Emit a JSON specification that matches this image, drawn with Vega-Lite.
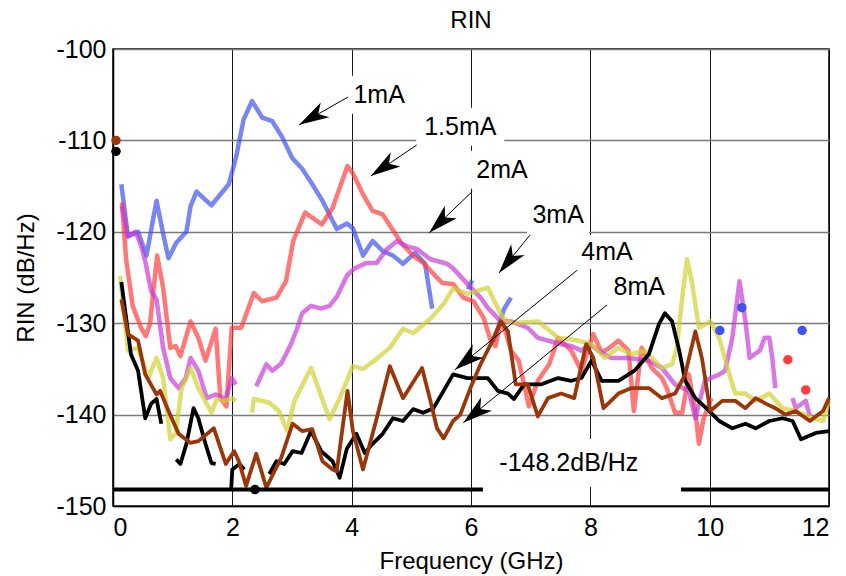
{
  "$schema": "https://vega.github.io/schema/vega-lite/v6.json",
  "width": 716,
  "height": 457,
  "autosize": "none",
  "padding": {"left": 113, "top": 49, "right": 17, "bottom": 70},
  "background": "white",
  "title": {"text": "RIN", "fontSize": 24, "font": "Liberation Sans", "fontWeight": "normal", "color": "black", "offset": 4},
  "datasets": {
    "lines": [
      {"s":"1mA","g":1,"x":0.14,"y":-114.8},{"s":"1mA","g":1,"x":0.25,"y":-120.5},{"s":"1mA","g":1,"x":0.42,"y":-120},{"s":"1mA","g":1,"x":0.56,"y":-122.6},{"s":"1mA","g":1,"x":0.73,"y":-116.6},{"s":"1mA","g":1,"x":0.84,"y":-120.2},{"s":"1mA","g":1,"x":0.93,"y":-122.9},{"s":"1mA","g":1,"x":1.06,"y":-121.2},{"s":"1mA","g":1,"x":1.23,"y":-120},{"s":"1mA","g":1,"x":1.3,"y":-117.2},{"s":"1mA","g":1,"x":1.4,"y":-115.6},{"s":"1mA","g":1,"x":1.65,"y":-117.1},{"s":"1mA","g":1,"x":1.94,"y":-114.8},{"s":"1mA","g":1,"x":2.06,"y":-111.9},{"s":"1mA","g":1,"x":2.19,"y":-107.7},{"s":"1mA","g":1,"x":2.33,"y":-105.7},{"s":"1mA","g":1,"x":2.5,"y":-107.5},{"s":"1mA","g":1,"x":2.67,"y":-107.9},{"s":"1mA","g":1,"x":2.84,"y":-109.7},{"s":"1mA","g":1,"x":3.0,"y":-111.9},{"s":"1mA","g":1,"x":3.17,"y":-113.1},{"s":"1mA","g":1,"x":3.34,"y":-114.8},{"s":"1mA","g":1,"x":3.51,"y":-116.6},{"s":"1mA","g":1,"x":3.75,"y":-119.7},{"s":"1mA","g":1,"x":3.92,"y":-119.1},{"s":"1mA","g":1,"x":4.02,"y":-119.6},{"s":"1mA","g":1,"x":4.19,"y":-122.6},{"s":"1mA","g":1,"x":4.35,"y":-121},{"s":"1mA","g":1,"x":4.52,"y":-122.1},{"s":"1mA","g":1,"x":4.69,"y":-122.6},{"s":"1mA","g":1,"x":4.86,"y":-123.5},{"s":"1mA","g":1,"x":5.06,"y":-122.3},{"s":"1mA","g":1,"x":5.23,"y":-123.5},{"s":"1mA","g":1,"x":5.35,"y":-128.4},
      {"s":"1mA","g":2,"x":5.95,"y":-126.3},{"s":"1mA","g":2,"x":6.02,"y":-125.3},
      {"s":"1mA","g":3,"x":6.38,"y":-132},{"s":"1mA","g":3,"x":6.48,"y":-130},{"s":"1mA","g":3,"x":6.55,"y":-128.5},{"s":"1mA","g":3,"x":6.67,"y":-127.2},
      {"s":"1.5mA","g":1,"x":0.15,"y":-116.8},{"s":"1.5mA","g":1,"x":0.22,"y":-123},{"s":"1.5mA","g":1,"x":0.33,"y":-128.1},{"s":"1.5mA","g":1,"x":0.47,"y":-130.5},{"s":"1.5mA","g":1,"x":0.55,"y":-131.4},{"s":"1.5mA","g":1,"x":0.62,"y":-130.1},{"s":"1.5mA","g":1,"x":0.74,"y":-122.6},{"s":"1.5mA","g":1,"x":0.84,"y":-126.1},{"s":"1.5mA","g":1,"x":0.96,"y":-132.7},{"s":"1.5mA","g":1,"x":1.05,"y":-132.5},{"s":"1.5mA","g":1,"x":1.13,"y":-133.6},{"s":"1.5mA","g":1,"x":1.3,"y":-129.8},{"s":"1.5mA","g":1,"x":1.43,"y":-131.6},{"s":"1.5mA","g":1,"x":1.55,"y":-134.1},{"s":"1.5mA","g":1,"x":1.72,"y":-130.6},{"s":"1.5mA","g":1,"x":1.8,"y":-138.2},{"s":"1.5mA","g":1,"x":1.9,"y":-139.1},{"s":"1.5mA","g":1,"x":1.99,"y":-130.5},{"s":"1.5mA","g":1,"x":2.15,"y":-130.5},{"s":"1.5mA","g":1,"x":2.36,"y":-126.7},{"s":"1.5mA","g":1,"x":2.5,"y":-127.6},{"s":"1.5mA","g":1,"x":2.74,"y":-127.2},{"s":"1.5mA","g":1,"x":2.9,"y":-125.4},{"s":"1.5mA","g":1,"x":3.02,"y":-121},{"s":"1.5mA","g":1,"x":3.22,"y":-117.9},{"s":"1.5mA","g":1,"x":3.5,"y":-119.2},{"s":"1.5mA","g":1,"x":3.68,"y":-117.4},{"s":"1.5mA","g":1,"x":3.93,"y":-112.8},{"s":"1.5mA","g":1,"x":4.02,"y":-113.6},{"s":"1.5mA","g":1,"x":4.19,"y":-115.9},{"s":"1.5mA","g":1,"x":4.35,"y":-117.7},{"s":"1.5mA","g":1,"x":4.52,"y":-118.1},{"s":"1.5mA","g":1,"x":4.69,"y":-119.8},{"s":"1.5mA","g":1,"x":4.84,"y":-121.3},{"s":"1.5mA","g":1,"x":5.03,"y":-122.6},{"s":"1.5mA","g":1,"x":5.2,"y":-123.4},{"s":"1.5mA","g":1,"x":5.37,"y":-124.6},{"s":"1.5mA","g":1,"x":5.52,"y":-125.6},{"s":"1.5mA","g":1,"x":5.7,"y":-125.7},{"s":"1.5mA","g":1,"x":5.87,"y":-127.2},{"s":"1.5mA","g":1,"x":6.04,"y":-127.6},{"s":"1.5mA","g":1,"x":6.21,"y":-129.4},{"s":"1.5mA","g":1,"x":6.33,"y":-131.9},{"s":"1.5mA","g":1,"x":6.41,"y":-132.5},{"s":"1.5mA","g":1,"x":6.5,"y":-129.8},{"s":"1.5mA","g":1,"x":6.58,"y":-130.9},{"s":"1.5mA","g":1,"x":6.67,"y":-133},{"s":"1.5mA","g":1,"x":6.8,"y":-134.1},{"s":"1.5mA","g":1,"x":6.97,"y":-139.1},{"s":"1.5mA","g":1,"x":7.12,"y":-136.3},{"s":"1.5mA","g":1,"x":7.31,"y":-134.5},{"s":"1.5mA","g":1,"x":7.46,"y":-131.6},{"s":"1.5mA","g":1,"x":7.68,"y":-133},{"s":"1.5mA","g":1,"x":7.85,"y":-135.2},{"s":"1.5mA","g":1,"x":8.05,"y":-131.2},{"s":"1.5mA","g":1,"x":8.19,"y":-133.2},{"s":"1.5mA","g":1,"x":8.32,"y":-132.7},{"s":"1.5mA","g":1,"x":8.47,"y":-131.9},{"s":"1.5mA","g":1,"x":8.64,"y":-133},{"s":"1.5mA","g":1,"x":8.73,"y":-139.6},{"s":"1.5mA","g":1,"x":8.86,"y":-132.7},{"s":"1.5mA","g":1,"x":9.03,"y":-134.9},{"s":"1.5mA","g":1,"x":9.2,"y":-136},{"s":"1.5mA","g":1,"x":9.28,"y":-137.1},{"s":"1.5mA","g":1,"x":9.42,"y":-139.8},{"s":"1.5mA","g":1,"x":9.54,"y":-139.8},{"s":"1.5mA","g":1,"x":9.65,"y":-135.6},{"s":"1.5mA","g":1,"x":9.76,"y":-139.6},{"s":"1.5mA","g":1,"x":9.82,"y":-143.2},{"s":"1.5mA","g":1,"x":9.9,"y":-140.4},{"s":"1.5mA","g":1,"x":10.03,"y":-138.2},
      {"s":"2mA","g":1,"x":0.15,"y":-117.2},{"s":"2mA","g":1,"x":0.25,"y":-120.5},{"s":"2mA","g":1,"x":0.38,"y":-120},{"s":"2mA","g":1,"x":0.47,"y":-121.5},{"s":"2mA","g":1,"x":0.54,"y":-123.2},{"s":"2mA","g":1,"x":0.64,"y":-126.5},{"s":"2mA","g":1,"x":0.73,"y":-127.4},{"s":"2mA","g":1,"x":0.84,"y":-132.7},{"s":"2mA","g":1,"x":0.96,"y":-136},{"s":"2mA","g":1,"x":1.1,"y":-137.1},{"s":"2mA","g":1,"x":1.22,"y":-136},{"s":"2mA","g":1,"x":1.3,"y":-133.8},{"s":"2mA","g":1,"x":1.43,"y":-135.2},{"s":"2mA","g":1,"x":1.57,"y":-138.2},{"s":"2mA","g":1,"x":1.72,"y":-137.8},{"s":"2mA","g":1,"x":1.89,"y":-138.3},{"s":"2mA","g":1,"x":1.99,"y":-136},{"s":"2mA","g":1,"x":2.06,"y":-136.7},
      {"s":"2mA","g":2,"x":2.4,"y":-136.9},{"s":"2mA","g":2,"x":2.57,"y":-134.5},{"s":"2mA","g":2,"x":2.67,"y":-135.2},{"s":"2mA","g":2,"x":2.82,"y":-134.4},{"s":"2mA","g":2,"x":2.99,"y":-132.2},{"s":"2mA","g":2,"x":3.09,"y":-130.5},{"s":"2mA","g":2,"x":3.17,"y":-128.9},{"s":"2mA","g":2,"x":3.32,"y":-128.1},{"s":"2mA","g":2,"x":3.49,"y":-128.4},{"s":"2mA","g":2,"x":3.63,"y":-128.1},{"s":"2mA","g":2,"x":3.76,"y":-127},{"s":"2mA","g":2,"x":3.92,"y":-124.8},{"s":"2mA","g":2,"x":4.05,"y":-124},{"s":"2mA","g":2,"x":4.25,"y":-123.4},{"s":"2mA","g":2,"x":4.42,"y":-123.4},{"s":"2mA","g":2,"x":4.59,"y":-121.9},{"s":"2mA","g":2,"x":4.76,"y":-121},{"s":"2mA","g":2,"x":4.93,"y":-121.6},{"s":"2mA","g":2,"x":5.1,"y":-121.9},{"s":"2mA","g":2,"x":5.32,"y":-123},{"s":"2mA","g":2,"x":5.6,"y":-123.5},{"s":"2mA","g":2,"x":5.7,"y":-124},{"s":"2mA","g":2,"x":5.94,"y":-125.7},{"s":"2mA","g":2,"x":6.16,"y":-127.2},{"s":"2mA","g":2,"x":6.28,"y":-128.3},{"s":"2mA","g":2,"x":6.5,"y":-129.8},{"s":"2mA","g":2,"x":6.67,"y":-129.8},{"s":"2mA","g":2,"x":6.95,"y":-130.5},{"s":"2mA","g":2,"x":7.12,"y":-131.6},{"s":"2mA","g":2,"x":7.29,"y":-131.9},{"s":"2mA","g":2,"x":7.51,"y":-132.3},{"s":"2mA","g":2,"x":7.68,"y":-132.5},{"s":"2mA","g":2,"x":7.85,"y":-133},{"s":"2mA","g":2,"x":7.98,"y":-132.3},{"s":"2mA","g":2,"x":8.14,"y":-133},{"s":"2mA","g":2,"x":8.35,"y":-133.8},{"s":"2mA","g":2,"x":8.64,"y":-133.8},{"s":"2mA","g":2,"x":8.98,"y":-134.1},{"s":"2mA","g":2,"x":9.2,"y":-134.9},{"s":"2mA","g":2,"x":9.42,"y":-136.7},{"s":"2mA","g":2,"x":9.65,"y":-137.4},{"s":"2mA","g":2,"x":9.76,"y":-140.4},{"s":"2mA","g":2,"x":9.92,"y":-136.3},{"s":"2mA","g":2,"x":10.16,"y":-135.6},{"s":"2mA","g":2,"x":10.26,"y":-135.2},{"s":"2mA","g":2,"x":10.38,"y":-131.6},{"s":"2mA","g":2,"x":10.5,"y":-125.4},{"s":"2mA","g":2,"x":10.6,"y":-129.8},{"s":"2mA","g":2,"x":10.67,"y":-133.8},{"s":"2mA","g":2,"x":10.84,"y":-133},{"s":"2mA","g":2,"x":10.92,"y":-131.6},{"s":"2mA","g":2,"x":11.0,"y":-131.6},{"s":"2mA","g":2,"x":11.05,"y":-133.8},{"s":"2mA","g":2,"x":11.1,"y":-137.1},
      {"s":"2mA","g":3,"x":11.39,"y":-138.2},{"s":"2mA","g":3,"x":11.44,"y":-139.3},{"s":"2mA","g":3,"x":11.61,"y":-138.5},{"s":"2mA","g":3,"x":11.68,"y":-140.2},
      {"s":"3mA","g":1,"x":0.12,"y":-124.8},{"s":"3mA","g":1,"x":0.25,"y":-133},{"s":"3mA","g":1,"x":0.42,"y":-132.7},{"s":"3mA","g":1,"x":0.59,"y":-136},{"s":"3mA","g":1,"x":0.73,"y":-133.8},{"s":"3mA","g":1,"x":0.84,"y":-136},{"s":"3mA","g":1,"x":0.96,"y":-142.7},{"s":"3mA","g":1,"x":1.05,"y":-142.1},{"s":"3mA","g":1,"x":1.15,"y":-137.1},{"s":"3mA","g":1,"x":1.3,"y":-134.9},{"s":"3mA","g":1,"x":1.43,"y":-137.1},{"s":"3mA","g":1,"x":1.65,"y":-139.8},{"s":"3mA","g":1,"x":1.74,"y":-138.3},{"s":"3mA","g":1,"x":1.86,"y":-138.5},{"s":"3mA","g":1,"x":1.99,"y":-138.2},{"s":"3mA","g":1,"x":2.06,"y":-138.5},
      {"s":"3mA","g":2,"x":2.33,"y":-139.8},{"s":"3mA","g":2,"x":2.36,"y":-138.3},{"s":"3mA","g":2,"x":2.62,"y":-138.7},{"s":"3mA","g":2,"x":2.78,"y":-139.6},{"s":"3mA","g":2,"x":2.92,"y":-141.8},{"s":"3mA","g":2,"x":3.04,"y":-138.5},{"s":"3mA","g":2,"x":3.32,"y":-134.9},{"s":"3mA","g":2,"x":3.63,"y":-140.5},{"s":"3mA","g":2,"x":3.8,"y":-138.2},{"s":"3mA","g":2,"x":4.02,"y":-134.7},{"s":"3mA","g":2,"x":4.19,"y":-135},{"s":"3mA","g":2,"x":4.42,"y":-133.9},{"s":"3mA","g":2,"x":4.64,"y":-132.7},{"s":"3mA","g":2,"x":4.86,"y":-130.6},{"s":"3mA","g":2,"x":5.03,"y":-131.1},{"s":"3mA","g":2,"x":5.32,"y":-129.5},{"s":"3mA","g":2,"x":5.54,"y":-127.9},{"s":"3mA","g":2,"x":5.7,"y":-126.2},{"s":"3mA","g":2,"x":5.94,"y":-126.8},{"s":"3mA","g":2,"x":6.28,"y":-126.1},{"s":"3mA","g":2,"x":6.53,"y":-129.4},{"s":"3mA","g":2,"x":6.67,"y":-130},{"s":"3mA","g":2,"x":7.12,"y":-129.8},{"s":"3mA","g":2,"x":7.46,"y":-131.6},{"s":"3mA","g":2,"x":7.8,"y":-131.9},{"s":"3mA","g":2,"x":8.02,"y":-132.3},{"s":"3mA","g":2,"x":8.24,"y":-133.8},{"s":"3mA","g":2,"x":8.47,"y":-132.7},{"s":"3mA","g":2,"x":8.69,"y":-133.4},{"s":"3mA","g":2,"x":8.91,"y":-133},{"s":"3mA","g":2,"x":9.2,"y":-134.9},{"s":"3mA","g":2,"x":9.37,"y":-134.5},{"s":"3mA","g":2,"x":9.45,"y":-132.7},{"s":"3mA","g":2,"x":9.54,"y":-127.2},{"s":"3mA","g":2,"x":9.62,"y":-123},{"s":"3mA","g":2,"x":9.7,"y":-125.4},{"s":"3mA","g":2,"x":9.82,"y":-130.5},{"s":"3mA","g":2,"x":10.01,"y":-129.8},{"s":"3mA","g":2,"x":10.16,"y":-131.6},{"s":"3mA","g":2,"x":10.33,"y":-135.6},{"s":"3mA","g":2,"x":10.43,"y":-137.7},{"s":"3mA","g":2,"x":10.6,"y":-137.7},{"s":"3mA","g":2,"x":10.77,"y":-138.5},{"s":"3mA","g":2,"x":11.0,"y":-137.7},{"s":"3mA","g":2,"x":11.22,"y":-139.3},{"s":"3mA","g":2,"x":11.44,"y":-139.6},{"s":"3mA","g":2,"x":11.73,"y":-140.4},{"s":"3mA","g":2,"x":11.9,"y":-140.7},{"s":"3mA","g":2,"x":12.0,"y":-138.5},
      {"s":"4mA","g":1,"x":0.14,"y":-125.5},{"s":"4mA","g":1,"x":0.25,"y":-130.9},{"s":"4mA","g":1,"x":0.3,"y":-133.4},{"s":"4mA","g":1,"x":0.42,"y":-135.2},{"s":"4mA","g":1,"x":0.54,"y":-140.4},{"s":"4mA","g":1,"x":0.64,"y":-138.8},{"s":"4mA","g":1,"x":0.73,"y":-138.3},{"s":"4mA","g":1,"x":0.81,"y":-141},
      {"s":"4mA","g":2,"x":1.06,"y":-144.9},{"s":"4mA","g":2,"x":1.13,"y":-145.4},{"s":"4mA","g":2,"x":1.23,"y":-143.2},{"s":"4mA","g":2,"x":1.35,"y":-139.3},{"s":"4mA","g":2,"x":1.43,"y":-140.4},{"s":"4mA","g":2,"x":1.55,"y":-143.2},{"s":"4mA","g":2,"x":1.65,"y":-145.3},{"s":"4mA","g":2,"x":1.72,"y":-145.4},
      {"s":"4mA","g":3,"x":1.98,"y":-148.2},{"s":"4mA","g":3,"x":2.0,"y":-146},{"s":"4mA","g":3,"x":2.12,"y":-145.4},{"s":"4mA","g":3,"x":2.2,"y":-146},
      {"s":"4mA","g":4,"x":2.62,"y":-146.5},{"s":"4mA","g":4,"x":2.74,"y":-145.1},{"s":"4mA","g":4,"x":2.87,"y":-145.4},{"s":"4mA","g":4,"x":3.01,"y":-144},{"s":"4mA","g":4,"x":3.16,"y":-144.2},{"s":"4mA","g":4,"x":3.32,"y":-141.8},{"s":"4mA","g":4,"x":3.49,"y":-144},{"s":"4mA","g":4,"x":3.68,"y":-145.1},{"s":"4mA","g":4,"x":3.8,"y":-146.9},{"s":"4mA","g":4,"x":3.92,"y":-143.7},{"s":"4mA","g":4,"x":4.08,"y":-142.1},{"s":"4mA","g":4,"x":4.22,"y":-144.2},{"s":"4mA","g":4,"x":4.35,"y":-143.2},{"s":"4mA","g":4,"x":4.52,"y":-142.1},{"s":"4mA","g":4,"x":4.69,"y":-140.4},{"s":"4mA","g":4,"x":4.86,"y":-140.7},{"s":"4mA","g":4,"x":5.03,"y":-139.4},{"s":"4mA","g":4,"x":5.2,"y":-139.8},{"s":"4mA","g":4,"x":5.37,"y":-139.3},{"s":"4mA","g":4,"x":5.54,"y":-137.4},{"s":"4mA","g":4,"x":5.7,"y":-135.6},{"s":"4mA","g":4,"x":5.94,"y":-136},{"s":"4mA","g":4,"x":6.04,"y":-136},{"s":"4mA","g":4,"x":6.28,"y":-136},{"s":"4mA","g":4,"x":6.45,"y":-137.4},{"s":"4mA","g":4,"x":6.62,"y":-137.7},{"s":"4mA","g":4,"x":6.72,"y":-138.3},{"s":"4mA","g":4,"x":6.89,"y":-136.7},{"s":"4mA","g":4,"x":7.17,"y":-136.7},{"s":"4mA","g":4,"x":7.46,"y":-136},{"s":"4mA","g":4,"x":7.68,"y":-136.3},{"s":"4mA","g":4,"x":7.85,"y":-136},{"s":"4mA","g":4,"x":8.02,"y":-134.1},{"s":"4mA","g":4,"x":8.19,"y":-136.3},{"s":"4mA","g":4,"x":8.47,"y":-136.3},{"s":"4mA","g":4,"x":8.74,"y":-135.2},{"s":"4mA","g":4,"x":8.98,"y":-133.4},{"s":"4mA","g":4,"x":9.15,"y":-130.1},{"s":"4mA","g":4,"x":9.25,"y":-128.9},{"s":"4mA","g":4,"x":9.37,"y":-129.8},{"s":"4mA","g":4,"x":9.49,"y":-133},{"s":"4mA","g":4,"x":9.59,"y":-136.3},{"s":"4mA","g":4,"x":9.76,"y":-138.2},{"s":"4mA","g":4,"x":9.99,"y":-139.6},{"s":"4mA","g":4,"x":10.16,"y":-140.7},{"s":"4mA","g":4,"x":10.38,"y":-141.5},{"s":"4mA","g":4,"x":10.6,"y":-141},{"s":"4mA","g":4,"x":10.77,"y":-141.5},{"s":"4mA","g":4,"x":11.0,"y":-140.7},{"s":"4mA","g":4,"x":11.22,"y":-140.4},{"s":"4mA","g":4,"x":11.39,"y":-140.7},{"s":"4mA","g":4,"x":11.53,"y":-142.7},{"s":"4mA","g":4,"x":11.78,"y":-142},{"s":"4mA","g":4,"x":12.0,"y":-141.8},
      {"s":"8mA","g":1,"x":0.14,"y":-127.4},{"s":"8mA","g":1,"x":0.25,"y":-131.2},{"s":"8mA","g":1,"x":0.42,"y":-131.9},{"s":"8mA","g":1,"x":0.54,"y":-135.6},{"s":"8mA","g":1,"x":0.73,"y":-137.8},{"s":"8mA","g":1,"x":0.79,"y":-137.4},{"s":"8mA","g":1,"x":0.93,"y":-139.6},{"s":"8mA","g":1,"x":1.1,"y":-142.1},{"s":"8mA","g":1,"x":1.3,"y":-143.1},{"s":"8mA","g":1,"x":1.43,"y":-142.9},{"s":"8mA","g":1,"x":1.69,"y":-141.5},{"s":"8mA","g":1,"x":1.89,"y":-145.4},{"s":"8mA","g":1,"x":2.03,"y":-144},{"s":"8mA","g":1,"x":2.11,"y":-145.1},{"s":"8mA","g":1,"x":2.23,"y":-147.8},{"s":"8mA","g":1,"x":2.4,"y":-144.3},{"s":"8mA","g":1,"x":2.57,"y":-148},{"s":"8mA","g":1,"x":2.82,"y":-144.7},{"s":"8mA","g":1,"x":3.01,"y":-141},{"s":"8mA","g":1,"x":3.17,"y":-141.8},{"s":"8mA","g":1,"x":3.34,"y":-141.6},{"s":"8mA","g":1,"x":3.51,"y":-145.1},{"s":"8mA","g":1,"x":3.68,"y":-146},{"s":"8mA","g":1,"x":3.75,"y":-146.2},{"s":"8mA","g":1,"x":3.93,"y":-137.4},{"s":"8mA","g":1,"x":4.02,"y":-141.8},{"s":"8mA","g":1,"x":4.19,"y":-146},{"s":"8mA","g":1,"x":4.42,"y":-140.4},{"s":"8mA","g":1,"x":4.64,"y":-134.7},{"s":"8mA","g":1,"x":4.86,"y":-138.2},{"s":"8mA","g":1,"x":5.18,"y":-134.9},{"s":"8mA","g":1,"x":5.32,"y":-138.5},{"s":"8mA","g":1,"x":5.43,"y":-141.5},{"s":"8mA","g":1,"x":5.54,"y":-142.6},{"s":"8mA","g":1,"x":5.7,"y":-140.7},{"s":"8mA","g":1,"x":5.82,"y":-140},{"s":"8mA","g":1,"x":5.99,"y":-137.1},{"s":"8mA","g":1,"x":6.16,"y":-134.5},{"s":"8mA","g":1,"x":6.33,"y":-132.3},{"s":"8mA","g":1,"x":6.5,"y":-129.8},{"s":"8mA","g":1,"x":6.62,"y":-130.9},{"s":"8mA","g":1,"x":6.75,"y":-136.7},{"s":"8mA","g":1,"x":6.95,"y":-136.7},{"s":"8mA","g":1,"x":7.12,"y":-140.2},{"s":"8mA","g":1,"x":7.29,"y":-138.2},{"s":"8mA","g":1,"x":7.51,"y":-137.7},{"s":"8mA","g":1,"x":7.73,"y":-138.2},{"s":"8mA","g":1,"x":7.93,"y":-132.3},{"s":"8mA","g":1,"x":8.05,"y":-133.8},{"s":"8mA","g":1,"x":8.22,"y":-139.3},{"s":"8mA","g":1,"x":8.47,"y":-137.7},{"s":"8mA","g":1,"x":8.69,"y":-137.1},{"s":"8mA","g":1,"x":8.98,"y":-137.1},{"s":"8mA","g":1,"x":9.2,"y":-138.2},{"s":"8mA","g":1,"x":9.42,"y":-137.7},{"s":"8mA","g":1,"x":9.59,"y":-135.6},{"s":"8mA","g":1,"x":9.76,"y":-130.9},{"s":"8mA","g":1,"x":9.87,"y":-133.8},{"s":"8mA","g":1,"x":10.01,"y":-139.6},{"s":"8mA","g":1,"x":10.21,"y":-138.5},{"s":"8mA","g":1,"x":10.43,"y":-138.5},{"s":"8mA","g":1,"x":10.6,"y":-139.3},{"s":"8mA","g":1,"x":10.77,"y":-138.2},{"s":"8mA","g":1,"x":10.94,"y":-138.8},{"s":"8mA","g":1,"x":11.1,"y":-139.3},{"s":"8mA","g":1,"x":11.27,"y":-140},{"s":"8mA","g":1,"x":11.44,"y":-139.6},{"s":"8mA","g":1,"x":11.68,"y":-140.7},{"s":"8mA","g":1,"x":11.9,"y":-139.6},{"s":"8mA","g":1,"x":12.0,"y":-138.2}
    ],
    "dots": [
      {"s":"1mA","x":10.17,"y":-130.8},{"s":"1mA","x":10.54,"y":-128.3},{"s":"1mA","x":11.55,"y":-130.8},
      {"s":"1.5mA","x":11.31,"y":-134},{"s":"1.5mA","x":11.61,"y":-137.3},
      {"s":"8mA","x":0.05,"y":-110},{"s":"4mA","x":0.05,"y":-111.2},{"s":"4mA","x":2.38,"y":-148.2}
    ],
    "floor": [
      {"x":0,"x2":6.2,"y":-148.2},{"x":9.52,"x2":12,"y":-148.2}
    ],
    "labels": [
      {"label":"1mA","x":4.46,"y":-105.0},
      {"label":"1.5mA","x":5.82,"y":-108.5},
      {"label":"2mA","x":6.52,"y":-113.2},
      {"label":"3mA","x":7.46,"y":-118.2},
      {"label":"4mA","x":8.28,"y":-122.2},
      {"label":"8mA","x":8.82,"y":-126.0},
      {"label":"-148.2dB/Hz","x":7.64,"y":-145.3}
    ],
    "arrows": [
      {"label":"1mA","x":3.94,"y":-105.25,"x2":3.12,"y2":-108.3,"angle":240},
      {"label":"1.5mA","x":5.09,"y":-110.5,"x2":4.32,"y2":-113.9,"angle":236},
      {"label":"2mA","x":6.02,"y":-115.6,"x2":5.3,"y2":-120.1,"angle":226},
      {"label":"3mA","x":6.99,"y":-120.35,"x2":6.47,"y2":-124.5,"angle":219},
      {"label":"4mA","x":7.78,"y":-124.2,"x2":5.73,"y2":-135.1,"angle":231},
      {"label":"8mA","x":8.28,"y":-128.0,"x2":5.87,"y2":-140.9,"angle":231}
    ]
  },
  "layer": [
    {
      "data": {"name": "labels"},
      "mark": {"type": "point", "filled": true, "fill": "white", "opacity": 1, "strokeWidth": 0, "size": 1600},
      "encoding": {
        "x": {"field": "x", "type": "quantitative", "scale": {"domain": [0, 12], "nice": false, "zero": false},
          "axis": {"values": [0,2,4,6,8,10,12], "labelExpr": "toString(datum.value)", "title": "Frequency (GHz)", "grid": true, "gridColor": "#000000", "gridWidth": 1, "gridOpacity": 0.9, "ticks": false, "labelPadding": 9, "titlePadding": 9, "domainColor": "black", "domainWidth": 1.5}},
        "y": {"field": "y", "type": "quantitative", "scale": {"domain": [-150, -100], "nice": false, "zero": false},
          "axis": {"values": [-150,-140,-130,-120,-110,-100], "labelExpr": "toString(datum.value)", "title": "RIN (dB/Hz)", "grid": true, "gridColor": "#7a7a7a", "gridWidth": 1.5, "ticks": false, "labelPadding": 7, "titlePadding": 17, "domainColor": "black", "domainWidth": 1.5}},
        "shape": {"field": "label", "type": "nominal", "legend": null,
          "scale": {"domain": ["1mA","1.5mA","2mA","3mA","4mA","8mA","-148.2dB/Hz"],
            "range": ["M-1.6,-0.95L1.6,-0.95L1.6,0.95L-1.6,0.95Z","M-2.2,-0.95L2.2,-0.95L2.2,0.95L-2.2,0.95Z","M-1.55,-0.95L1.55,-0.95L1.55,0.95L-1.55,0.95Z","M-1.55,-0.95L1.55,-0.95L1.55,0.95L-1.55,0.95Z","M-1.55,-0.85L1.55,-0.85L1.55,0.85L-1.55,0.85Z","M-1.55,-0.85L1.55,-0.85L1.55,0.85L-1.55,0.85Z","M-3.9,-1.2L3.9,-1.2L3.9,1.2L-3.9,1.2Z"]}}
      }
    },
    {
      "data": {"name": "lines"},
      "transform": [{"filter": "datum.s == '1mA' || datum.s == '1.5mA' || datum.s == '2mA' || datum.s == '3mA'"}],
      "mark": {"type": "line", "strokeWidth": 4.5, "opacity": 0.7, "strokeJoin": "round", "strokeCap": "butt"},
      "encoding": {
        "x": {"field": "x", "type": "quantitative"},
        "y": {"field": "y", "type": "quantitative"},
        "color": {"field": "s", "type": "nominal", "legend": null,
          "scale": {"domain": ["1mA","1.5mA","2mA","3mA","4mA","8mA"], "range": ["#3f52f0","#ff3d3d","#c83cd8","#d2d232","#000000","#9a3608"]}},
        "detail": {"field": "g", "type": "nominal"},
        "order": {"field": "x", "type": "quantitative"}
      }
    },
    {
      "data": {"name": "lines"},
      "transform": [{"filter": "datum.s == '4mA' || datum.s == '8mA'"}],
      "mark": {"type": "line", "strokeWidth": 3.8, "strokeJoin": "round"},
      "encoding": {
        "x": {"field": "x", "type": "quantitative"},
        "y": {"field": "y", "type": "quantitative"},
        "color": {"field": "s", "type": "nominal", "legend": null},
        "detail": {"field": "g", "type": "nominal"},
        "order": {"field": "x", "type": "quantitative"}
      }
    },
    {
      "data": {"name": "floor"},
      "mark": {"type": "rule", "color": "black", "strokeWidth": 4},
      "encoding": {
        "x": {"field": "x", "type": "quantitative"},
        "x2": {"field": "x2"},
        "y": {"field": "y", "type": "quantitative"}
      }
    },
    {
      "data": {"name": "dots"},
      "mark": {"type": "point", "filled": true, "opacity": 1, "size": 90},
      "encoding": {
        "x": {"field": "x", "type": "quantitative"},
        "y": {"field": "y", "type": "quantitative"},
        "color": {"field": "s", "type": "nominal", "legend": null}
      }
    },
    {
      "data": {"name": "arrows"},
      "mark": {"type": "rule", "color": "black", "strokeWidth": 1},
      "encoding": {
        "x": {"field": "x", "type": "quantitative"},
        "y": {"field": "y", "type": "quantitative"},
        "x2": {"field": "x2"},
        "y2": {"field": "y2"}
      }
    },
    {
      "data": {"name": "arrows"},
      "mark": {"type": "point", "filled": true, "fill": "black", "opacity": 1, "strokeWidth": 0, "size": 530, "shape": "M0,0L0.75,2.6L0,1.9L-0.75,2.6Z"},
      "encoding": {
        "x": {"field": "x2", "type": "quantitative"},
        "y": {"field": "y2", "type": "quantitative"},
        "angle": {"field": "angle", "type": "quantitative", "scale": null}
      }
    },
    {
      "data": {"name": "labels"},
      "mark": {"type": "text", "font": "Liberation Sans", "fontSize": 25, "color": "black", "align": "center", "baseline": "middle"},
      "encoding": {
        "x": {"field": "x", "type": "quantitative"},
        "y": {"field": "y", "type": "quantitative"},
        "text": {"field": "label"}
      }
    }
  ],
  "config": {
    "view": {"stroke": "black", "strokeWidth": 1.5},
    "axis": {"labelFont": "Liberation Sans", "labelFontSize": 25, "labelColor": "black", "titleFont": "Liberation Sans", "titleFontSize": 24, "titleFontWeight": "normal", "titleColor": "black"}
  }
}
